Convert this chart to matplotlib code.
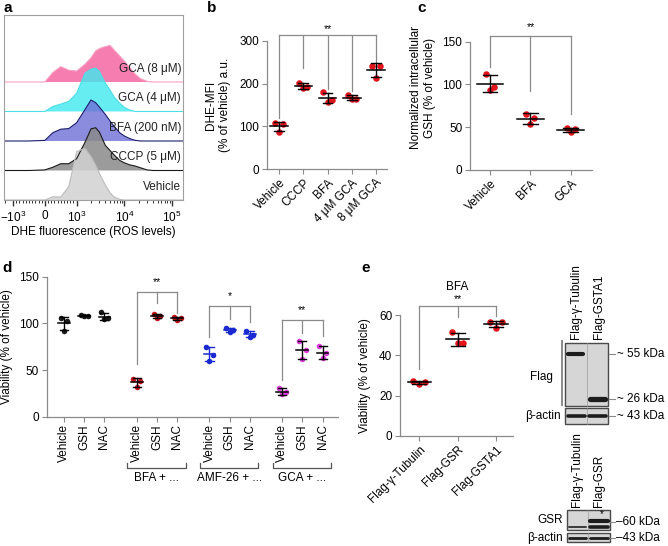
import numpy as np
import matplotlib.pyplot as plt
from matplotlib import transforms
from matplotlib.patches import Rectangle

plt.rcParams['font.family'] = ['Liberation Sans', 'DejaVu Sans']
plt.rcParams['font.size'] = 8.5
plt.rcParams['mathtext.fontset'] = 'custom'
plt.rcParams['mathtext.rm'] = 'Liberation Sans'
plt.rcParams['mathtext.it'] = 'Liberation Sans:italic'

# ---- panel a: DHE histograms (fluorescence bins, relative counts) ----
dhe_bins = [-1550, -1000, -500, 0, 250, 500, 750, 1000, 1500, 2000, 2500, 3000,
            4000, 5000, 6000, 8000, 10000, 13000, 17000, 22000, 30000, 40000, 60000, 170000]
hist_gca8 = [0, 0, 0, 0, 0.32, 0.52, 0.40, 0.37, 0.60, 0.82, 1.05, 1.13,
             1.20, 1.24, 1.10, 0.88, 0.71, 0.49, 0.26, 0.11, 0.02, 0, 0, 0]
hist_gca4 = [0, 0, 0, 0, 0.17, 0.25, 0.34, 0.62, 1.30, 1.43, 1.47, 1.36,
             0.96, 0.73, 0.51, 0.28, 0.14, 0.05, 0, 0, 0, 0, 0, 0]
hist_bfa = [0, 0, 0, 0.02, 0.28, 0.40, 0.42, 0.62, 1.07, 1.39, 1.30, 1.15,
            0.90, 0.68, 0.51, 0.28, 0.17, 0.08, 0.02, 0, 0, 0, 0, 0]
hist_cccp = [0, 0, 0, 0.02, 0.11, 0.23, 0.23, 0.40, 0.96, 1.41, 1.45, 1.30,
             0.85, 0.68, 0.54, 0.34, 0.26, 0.19, 0.15, 0.09, 0.02, 0, 0, 0]
hist_vehicle = [0, 0, 0, 0, 0.11, 0.10, 0.45, 1.64, 1.75, 1.47, 1.19, 0.90,
                0.51, 0.25, 0.11, 0.02, 0, 0, 0, 0, 0, 0, 0, 0]
hist_labels = ['GCA (8 μM)', 'GCA (4 μM)', 'BFA (200 nM)', 'CCCP (5 μM)', 'Vehicle']
a_ticks = [-1000, 0, 1000, 10000, 100000]
a_ticklabels = ['$-10^3$', '0', '$10^3$', '$10^4$', '$10^5$']

# ---- panel b ----
b_groups = ['Vehicle', 'CCCP', 'BFA', '4 μM GCA', '8 μM GCA']
b_values = [[107, 105, 88], [202, 191, 190], [180, 162, 156], [174, 164, 164], [241, 240, 214]]

# ---- panel c ----
c_groups = ['Vehicle', 'BFA', 'GCA']
c_values = [[112, 97.5, 93.5], [66, 60.5, 53.5], [49.5, 47.5, 44.8]]

# ---- panel d ----
d_treatments = ['Vehicle', 'GSH', 'NAC']
d_groups = ['', 'BFA + ...', 'AMF-26 + ...', 'GCA + ...']
d_control = [[105.4, 102.9, 92.1], [108.9, 108.2, 107.5], [111.8, 105.4, 104.3]]
d_bfa = [[40, 38.6, 31.4], [110, 108.2, 105.4], [106.4, 105.4, 104]]
d_amf = [[74.5, 66, 59.5], [94.6, 92.9, 91.1], [92, 88, 85.5]]
d_gca = [[31, 26, 24], [81, 71.4, 61.4], [75.7, 67.9, 62.5]]

# ---- panel e ----
e_groups = ['Flag-γ-Tubulin', 'Flag-GSR', 'Flag-GSTA1']
e_values = [[27.2, 26.6, 25.8], [51.8, 46.1, 46.1], [56.6, 56.3, 53.8]]

W, H = 668, 546
GRAY = '#8a8a8a'
fig = plt.figure(figsize=(W / 100, H / 100), dpi=100)


def px_axes(x0, y0, x1, y1):
    return fig.add_axes([x0 / W, 1 - y1 / H, (x1 - x0) / W, (y1 - y0) / H])


def style_dot_axes(ax):
    for s in ['top', 'right']:
        ax.spines[s].set_visible(False)
    for s in ['left', 'bottom']:
        ax.spines[s].set_color(GRAY)
        ax.spines[s].set_linewidth(0.9)
    ax.tick_params(colors=GRAY, labelcolor='black', length=3.5, width=0.8, pad=2)


def dot_plot(ax, xs, values, color, bar_color='black', s=22, jit=0.17, hw=0.36, cap=0.2):
    for x, vals in zip(xs, values):
        m = np.mean(vals)
        sd = np.std(vals, ddof=1)
        ax.scatter(x + np.array([-jit, jit, 0]), vals, s=s, color=color, lw=0, zorder=3)
        ax.plot([x - hw, x + hw], [m, m], color=bar_color, lw=1.1, zorder=4)
        ax.plot([x, x], [m - sd, m + sd], color=bar_color, lw=1.0, zorder=4)
        for y in (m - sd, m + sd):
            ax.plot([x - cap, x + cap], [y, y], color=bar_color, lw=1.0, zorder=4)


def bracket(ax, xs, tops, y, label, star_y):
    ax.plot([xs[0], xs[-1]], [y, y], color=GRAY, lw=0.9, clip_on=False)
    for x, t in zip(xs, tops):
        ax.plot([x, x], [t, y], color=GRAY, lw=0.9, clip_on=False)
    ax.text((xs[0] + xs[-1]) / 2, star_y, label, ha='center', va='center', fontsize=7.5, clip_on=False)


# ================= a =================
ax = px_axes(4, 15, 183, 200)
ax.set_xscale('symlog', linthresh=1000, linscale=0.6)
ax.set_xlim(-1550, 1.7e5)
ax.set_ylim(0, 6.27)
specs = [
    (4, hist_gca8, '#f46fa6', '#f7a0c4', '#f5a0c5', 0.9),
    (3, hist_gca4, '#3fe9ef', '#4fdde6', '#58dce6', 0.8),
    (2, hist_bfa, '#6f6fd8', '#1e1e70', '#4a4aa0', 0.8),
    (1, hist_cccp, '#8a8a8a', '#1a1a1a', '#606060', 0.85),
    (0, hist_vehicle, '#d2d2d2', '#bdbdbd', '#bdbdbd', 0.85),
]
for (off, h, fc, ec, lc, al), lab in zip(specs, hist_labels):
    y = off + np.array(h)
    ax.fill_between(dhe_bins, off, y, facecolor=fc, edgecolor='none', alpha=al)
    ax.plot(dhe_bins, y, color=ec, lw=0.8)
    ax.text(0.99, off + 0.45, lab, transform=ax.get_yaxis_transform(), ha='right', va='center', color='#222222')
ax.set_xticks(a_ticks)
ax.set_xticklabels(a_ticklabels)
minor = list(range(-900, 1000, 100)) + [k * 10 ** d for d in (3, 4) for k in range(2, 10)] + [-1500]
ax.set_xticks(minor, minor=True)
ax.set_yticks([])
for s in ax.spines.values():
    s.set_color('#a0a0a0')
    s.set_linewidth(0.8)
ax.tick_params(axis='x', which='major', length=4, width=1.0, color='#333333', pad=3)
ax.tick_params(axis='x', which='minor', length=2.5, width=0.7, color='#333333')
ax.set_xlabel('DHE fluorescence (ROS levels)')
ax.xaxis.set_label_coords(0.5, -0.14)

# ================= b =================
ax = px_axes(266.7, 40.7, 386.7, 169.3)
style_dot_axes(ax)
xs = np.arange(len(b_groups))
dot_plot(ax, xs, b_values, '#e3141b')
ax.set_xlim(-0.51, 4.44)
ax.set_ylim(0, 300)
ax.set_yticks([0, 100, 200, 300])
ax.set_xticks(xs)
ax.set_xticklabels(b_groups, rotation=45, ha='right', va='top', rotation_mode='anchor')
ax.set_ylabel('DHE-MFI\n(% of vehicle) a.u.', linespacing=1.2)
ax.yaxis.set_label_coords(-0.30, 0.5)
bracket(ax, xs, [119, 236, 187, 183, 247], 313, '**', 328)

# ================= c =================
ax = px_axes(470, 41.7, 591.7, 170)
style_dot_axes(ax)
xs = np.arange(len(c_groups))
dot_plot(ax, xs, c_values, '#e3141b', jit=0.1, hw=0.33, cap=0.18)
ax.set_xlim(-0.5, 2.52)
ax.set_ylim(0, 150)
ax.set_yticks([0, 50, 100, 150])
ax.set_xticks(xs)
ax.set_xticklabels(c_groups, rotation=45, ha='right', va='top', rotation_mode='anchor')
ax.set_ylabel('Normalized intracellular\nGSH (% of vehicle)', linespacing=1.2)
ax.yaxis.set_label_coords(-0.28, 0.64)
bracket(ax, xs, [121, 92, 66], 156.6, '**', 167)

# ================= d =================
ax = px_axes(46.7, 276.7, 338.3, 416.7)
style_dot_axes(ax)
d_data = [d_control, d_bfa, d_amf, d_gca]
d_colors = [('#1a1a1a', 'black'), ('#c8141c', 'black'), ('#1a2ad0', '#1a2ad0'), ('#e03ce0', 'black')]
ticks, labels = [], []
for g, (vals, (dc, bc)) in enumerate(zip(d_data, d_colors)):
    xs = g * 3.6 + np.arange(3)
    dot_plot(ax, xs, vals, dc, bar_color=bc, s=16, jit=0.17, hw=0.29, cap=0.2)
    ticks += list(xs)
    labels += d_treatments
ax.set_xlim(-0.86, 13.58)
ax.set_ylim(0, 150)
ax.set_yticks([0, 50, 100, 150])
ax.set_xticks(ticks)
ax.set_xticklabels(labels, rotation=90, ha='center', va='top')
ax.set_ylabel('Viability (% of vehicle)')
ax.yaxis.set_label_coords(-0.114, 0.5)
bx = transforms.blended_transform_factory(ax.transData, ax.transAxes)
for g in range(1, 4):
    x0, x1 = g * 3.6 - 0.47, g * 3.6 + 2.42
    ax.plot([x0, x0, x1, x1], [-0.333, -0.369, -0.369, -0.333], color='#555555', lw=0.9,
            transform=bx, clip_on=False)
    ax.text((x0 + x1) / 2, -0.437, d_groups[g], transform=bx, ha='center', va='center')
bracket(ax, 3.6 + np.arange(3), [57, 121.4, 111.4], 134, '**', 144.6)
bracket(ax, 7.2 + np.arange(3), [85, 104.3, 101], 118.6, '*', 129)
bracket(ax, 10.8 + np.arange(3), [39.3, 90, 86.4], 103.6, '**', 114.3)

# ================= e =================
ax = px_axes(400, 315, 513.3, 436)
style_dot_axes(ax)
xs = np.arange(len(e_groups))
dot_plot(ax, xs, e_values, '#e3141b', jit=0.15, hw=0.3, cap=0.18)
ax.set_xlim(-0.5, 2.45)
ax.set_ylim(0, 60)
ax.set_yticks([0, 20, 40, 60])
ax.set_xticks(xs)
ax.set_xticklabels(e_groups, rotation=45, ha='right', va='top', rotation_mode='anchor')
ax.set_ylabel('Viability (% of vehicle)')
ax.yaxis.set_label_coords(-0.256, 0.5)
bracket(ax, xs, [33.2, 59, 59.3], 64.6, '**', 67.9)
ax.text(1, 74, 'BFA', ha='center', va='center', clip_on=False)

# ================= overlay: letters and blots =================
ov = fig.add_axes([0, 0, 1, 1])
ov.set_xlim(0, W)
ov.set_ylim(H, 0)
ov.axis('off')
for lt, x, y in [('a', 3, 8), ('b', 207, 8), ('c', 417, 8), ('d', 2, 268), ('e', 361, 268)]:
    ov.text(x, y, lt, fontsize=11, fontweight='bold', va='center', ha='left')


def blot_box(x0, y0, x1, y1, div):
    ov.add_patch(Rectangle((x0, y0), x1 - x0, y1 - y0, facecolor='#d6d6d6', edgecolor='#4a4a4a', lw=1.0))
    ov.plot([div, div], [y0, y1], color='#9a9a9a', lw=0.5)


def band(x0, x1, y, lw, color='#1c1c1c'):
    ov.plot([x0, x1], [y, y], color=color, lw=lw, solid_capstyle='round')


def size_mark(x, y, s):
    ov.plot([x, x + 6], [y, y], color=GRAY, lw=0.8)
    ov.text(x + 8, y, s, ha='left', va='center')


# upper blot
blot_box(565, 342.7, 607.7, 406, 586.7)
blot_box(565, 408.3, 607.7, 424, 586.7)
band(568, 583, 354, 3.0)
band(590, 605, 399.3, 3.8)
band(567.5, 585, 416, 2.6)
band(588.5, 605.5, 416, 2.6)
ov.plot([561.7, 561.7], [341, 405], color=GRAY, lw=1.4)
ov.text(553, 376.7, 'Flag', ha='right', va='center')
ov.text(561, 416, 'β-actin', ha='right', va='center')
size_mark(609, 354, '~ 55 kDa')
size_mark(609, 399.3, '~ 26 kDa')
size_mark(609, 416, '~ 43 kDa')
ov.text(576, 339, 'Flag-γ-Tubulin', rotation=90, ha='center', va='bottom')
ov.text(598.5, 339, 'Flag-GSTA1', rotation=90, ha='center', va='bottom')

# lower blot
blot_box(566.7, 510, 610, 530, 588)
blot_box(566.7, 533.3, 610, 542.3, 588)
band(569, 586, 526.5, 1.4, '#3a3a3a')
band(590, 607.5, 520.5, 3.0)
band(590, 607.5, 526.5, 2.6)
band(569, 586, 538, 2.0)
band(590, 607.5, 538, 2.0)
ov.text(601.7, 514.5, '*', ha='center', va='center', fontsize=7)
ov.text(563, 520, 'GSR', ha='right', va='center')
ov.text(563, 538, 'β-actin', ha='right', va='center')
ov.plot([610, 615], [521.7, 521.7], color=GRAY, lw=0.8)
ov.text(616, 521.7, '–60 kDa', ha='left', va='center')
ov.plot([610, 615], [538.3, 538.3], color=GRAY, lw=0.8)
ov.text(616, 538.3, '–43 kDa', ha='left', va='center')
ov.text(577, 507, 'Flag-γ-Tubulin', rotation=90, ha='center', va='bottom')
ov.text(598.5, 507, 'Flag-GSR', rotation=90, ha='center', va='bottom')

fig.savefig('out.png', dpi=100, facecolor='white')
